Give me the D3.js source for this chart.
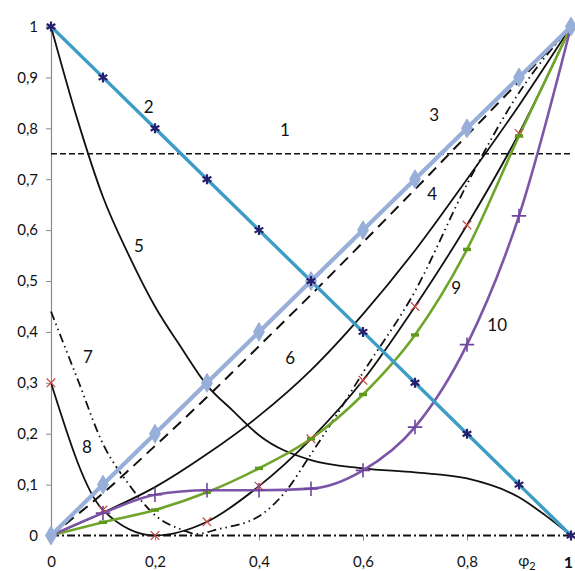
<!DOCTYPE html>
<html>
<head>
<meta charset="utf-8">
<script src="https://cdn.jsdelivr.net/npm/d3@7"></script>
<style>
  html, body { margin: 0; padding: 0; background: #fff; }
  svg { display: block; }
  text { font-family: Lato, "Open Sans", "Liberation Sans", sans-serif; fill: #111; }
</style>
</head>
<body>
<svg id="chart" width="575" height="571"></svg>
<script>
// Grid of phi2 values shared by most series
const phi = [0, 0.1, 0.2, 0.3, 0.4, 0.5, 0.6, 0.7, 0.8, 0.9, 1];

// 1: constant level
const y1 = [0.75, 0.75];
const phi1 = [0, 1];
// 2: descending straight line
const y2 = [1, 0.9, 0.8, 0.7, 0.6, 0.5, 0.4, 0.3, 0.2, 0.1, 0];
// 3: diagonal
const y3 = [0, 0.1, 0.2, 0.3, 0.4, 0.5, 0.6, 0.7, 0.8, 0.9, 1];
// 4: dashed, just below the diagonal
const y4 = [0, 0.083, 0.176, 0.272, 0.372, 0.473, 0.576, 0.680, 0.786, 0.892, 1];
// 5: falling curve with a plateau
const phi5 = [0, 0.05, 0.1, 0.15, 0.2, 0.25, 0.3, 0.35, 0.4, 0.5, 0.6, 0.7, 0.8, 0.9, 0.95, 1];
const y5 = [1, 0.82, 0.665, 0.55, 0.45, 0.37, 0.295, 0.245, 0.197, 0.148, 0.132, 0.124, 0.112, 0.075, 0.04, 0];
// 6: rising convex curve
const y6 = [0, 0.045, 0.095, 0.16, 0.235, 0.325, 0.435, 0.56, 0.70, 0.845, 1];
// 7: dash-dot-dot curve with a minimum near 0.28
const phi7 = [0, 0.05, 0.1, 0.15, 0.2, 0.25, 0.28, 0.32, 0.4, 0.45, 0.5, 0.55, 0.6, 0.7, 0.8, 0.9, 1];
const y7 = [0.44, 0.31, 0.18, 0.10, 0.04, 0.012, 0.003, 0.012, 0.038, 0.085, 0.16, 0.238, 0.32, 0.48, 0.69, 0.87, 1];
// 8: curve with a minimum at 0.2 (red cross markers)
const y8 = [0.3, 0.05, 0, 0.027, 0.097, 0.19, 0.305, 0.45, 0.61, 0.79, 1];
// 9: green curve
const y9 = [0, 0.026, 0.05, 0.085, 0.132, 0.19, 0.277, 0.394, 0.562, 0.785, 1];
// 10: purple curve
const y10 = [0, 0.044, 0.08, 0.089, 0.089, 0.092, 0.128, 0.213, 0.375, 0.628, 1];

// Axis ticks and labels
const yTicks = [0, 0.1, 0.2, 0.3, 0.4, 0.5, 0.6, 0.7, 0.8, 0.9, 1];
const yTickLabels = ["0", "0,1", "0,2", "0,3", "0,4", "0,5", "0,6", "0,7", "0,8", "0,9", "1"];
const xTicks = [0, 0.2, 0.4, 0.6, 0.8, 1];
const xTickLabels = ["0", "0,2", "0,4", "0,6", "0,8", "1"];

// Curve numbers and where they sit (phi2, value)
const curveLabels = ["1", "2", "3", "4", "5", "6", "7", "8", "9", "10"];
const curveLabelX = [0.45, 0.188, 0.737, 0.733, 0.169, 0.46, 0.071, 0.069, 0.779, 0.858];
const curveLabelY = [0.797, 0.843, 0.828, 0.671, 0.57, 0.349, 0.352, 0.174, 0.488, 0.414];

const svg = d3.select("#chart");
const x = d3.scaleLinear().domain([0, 1]).range([51, 571]);
const y = d3.scaleLinear().domain([0, 1]).range([535.5, 26.5]);

const pts = (xs, ys) => xs.map((v, i) => [v, ys[i]]);
const line = d3.line().x(d => x(d[0])).y(d => y(d[1])).curve(d3.curveMonotoneX);
const straight = d3.line().x(d => x(d[0])).y(d => y(d[1]));

// Y axis: grey spine with outward ticks
const yAxis = d3.axisLeft(y).tickValues(yTicks).tickSize(5).tickPadding(8)
  .tickFormat((d, i) => yTickLabels[i]);
const gy = svg.append("g").attr("transform", `translate(${x(0)},0)`).call(yAxis);
gy.select(".domain").attr("stroke", "#8a8a8a").attr("stroke-width", 1.2);
gy.selectAll(".tick line").attr("stroke", "#8a8a8a");
gy.selectAll(".tick text").style("font-size", "15px").attr("fill", "#111")
  .style("font-family", "Lato, 'Open Sans', sans-serif");

// X axis: ticks and labels below the zero line
const xAxis = d3.axisBottom(x).tickValues(xTicks).tickSize(5).tickPadding(16)
  .tickFormat((d, i) => xTickLabels[i]);
const gx = svg.append("g").attr("transform", `translate(0,${y(0)})`).call(xAxis);
gx.select(".domain").remove();
gx.selectAll(".tick line").attr("stroke", "#8a8a8a");
gx.selectAll(".tick text").style("font-size", "15px").attr("fill", "#111")
  .style("font-family", "Lato, 'Open Sans', sans-serif");
gx.selectAll(".tick text").filter((d, i) => i === xTicks.length - 1)
  .attr("x", -3).style("font-size", "16px").style("font-weight", "bold");

// phi2 axis title next to the last tick
const title = svg.append("text").attr("x", x(0.9) + 8).attr("y", y(0) + 30)
  .attr("text-anchor", "middle").style("font-size", "15px");
title.append("tspan").text("φ");
title.append("tspan").attr("dy", 4).style("font-size", "11px").text("2");

// zero line drawn dash-dot
svg.append("path").attr("d", straight([[0, 0], [1, 0]]))
  .attr("fill", "none").attr("stroke", "#111").attr("stroke-width", 2)
  .attr("stroke-dasharray", "8,3,2,3");

// 1: horizontal dashed line
svg.append("path").attr("d", straight(pts(phi1, y1)))
  .attr("fill", "none").attr("stroke", "#111").attr("stroke-width", 1.6)
  .attr("stroke-dasharray", "6,3");

// 5: black falling curve
svg.append("path").attr("d", line(pts(phi5, y5)))
  .attr("fill", "none").attr("stroke", "#111").attr("stroke-width", 1.8);

// 6: black rising curve
svg.append("path").attr("d", line(pts(phi, y6)))
  .attr("fill", "none").attr("stroke", "#111").attr("stroke-width", 1.8);

// 7: dash-dot-dot curve
svg.append("path").attr("d", line(pts(phi7, y7)))
  .attr("fill", "none").attr("stroke", "#111").attr("stroke-width", 1.8)
  .attr("stroke-dasharray", "9,4,1.5,4,1.5,4");

// 8: black curve with red crosses
svg.append("path").attr("d", line(pts(phi, y8)))
  .attr("fill", "none").attr("stroke", "#111").attr("stroke-width", 1.8);

// 4: dashed curve
svg.append("path").attr("d", line(pts(phi, y4)))
  .attr("fill", "none").attr("stroke", "#111").attr("stroke-width", 2)
  .attr("stroke-dasharray", "11,7");

// 9: green curve
svg.append("path").attr("d", line(pts(phi, y9)))
  .attr("fill", "none").attr("stroke", "#6fa52a").attr("stroke-width", 2.6);

// 10: purple curve
svg.append("path").attr("d", line(pts(phi, y10)))
  .attr("fill", "none").attr("stroke", "#7d55a8").attr("stroke-width", 2.6);

// 3: light blue diagonal
svg.append("path").attr("d", straight(pts(phi, y3)))
  .attr("fill", "none").attr("stroke", "#97afd9").attr("stroke-width", 4.2);

// 2: teal descending line
svg.append("path").attr("d", straight(pts(phi, y2)))
  .attr("fill", "none").attr("stroke", "#3d9dc6").attr("stroke-width", 3.4);

// Markers
const sym = (type, size) => d3.symbol().type(type).size(size)();

svg.append("g").selectAll("path").data(pts(phi.slice(0, 10), y8.slice(0, 10))).join("path")
  .attr("transform", d => `translate(${x(d[0])},${y(d[1])})`)
  .attr("d", sym(d3.symbolTimes, 50))
  .attr("fill", "none").attr("stroke", "#c8453f").attr("stroke-width", 1.2);

svg.append("g").selectAll("path").data(pts(phi.slice(1, 10), y9.slice(1, 10))).join("path")
  .attr("transform", d => `translate(${x(d[0])},${y(d[1])})`)
  .attr("d", "M-4,0H4")
  .attr("fill", "none").attr("stroke", "#5f9a1e").attr("stroke-width", 3.5);

svg.append("g").selectAll("path").data(pts(phi.slice(1, 10), y10.slice(1, 10))).join("path")
  .attr("transform", d => `translate(${x(d[0])},${y(d[1])})`)
  .attr("d", sym(d3.symbolPlus, 70))
  .attr("fill", "none").attr("stroke", "#6f45a0").attr("stroke-width", 1.6);

svg.append("g").selectAll("path").data(pts(phi, y3)).join("path")
  .attr("transform", d => `translate(${x(d[0])},${y(d[1])})`)
  .attr("d", sym(d3.symbolDiamond, 90))
  .attr("fill", "#97afd9").attr("stroke", "#97afd9").attr("stroke-width", 1.5)
  .attr("stroke-linejoin", "round");

svg.append("g").selectAll("path").data(pts(phi, y2)).join("path")
  .attr("transform", d => `translate(${x(d[0])},${y(d[1])})`)
  .attr("d", sym(d3.symbolAsterisk, 70))
  .attr("fill", "none").attr("stroke", "#24206e").attr("stroke-width", 2.2);

// Curve numbers
svg.append("g").selectAll("text").data(curveLabels).join("text")
  .attr("x", (d, i) => x(curveLabelX[i]))
  .attr("y", (d, i) => y(curveLabelY[i]))
  .attr("text-anchor", "middle").attr("dominant-baseline", "central")
  .style("font-size", "17px")
  .text(d => d);
</script>
</body>
</html>
